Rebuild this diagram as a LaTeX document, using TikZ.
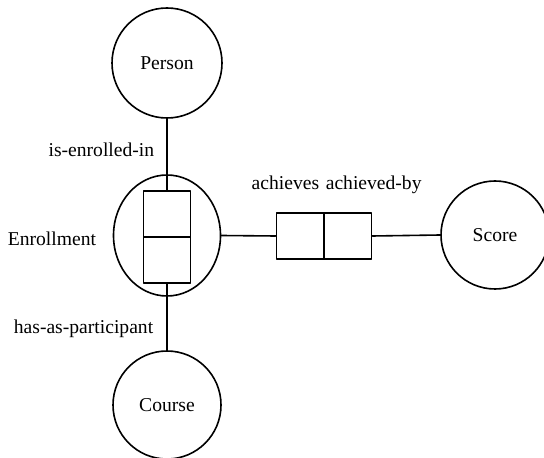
\documentclass[tikz,border=0pt]{standalone}
\usepackage{fontspec}
\setmainfont{Liberation Serif}
\usetikzlibrary{shapes.geometric}
\begin{document}
\begin{tikzpicture}[x=0.5pt,y=-0.5pt,line cap=round,line join=round,line width=0.8pt,
  font=\fontsize{9.8}{12}\selectfont,
  ent/.style={draw,circle,minimum size=54pt,inner sep=0pt},
  cell/.style={draw,rectangle,minimum width=23.5pt,minimum height=23pt,inner sep=0pt},
  lbl/.style={inner sep=0pt}]
\useasboundingbox (0,0) rectangle (544,458);
\node[ent,minimum size=55pt] (person) at (167,63) {Person};
\node[draw,ellipse,minimum width=53.5pt,minimum height=60.5pt,inner sep=0pt] (enrol) at (167,235.5) {};
\node[cell] (enrolTop) at (167,214) {};
\node[cell] (enrolBot) at (167,260) {};
\node[cell,minimum width=23.75pt] (achieves) at (300.25,236) {};
\node[cell,minimum width=23.75pt] (achievedBy) at (347.75,236) {};
\node[ent] (score) at (495,235) {Score};
\node[ent] (course) at (167,405) {Course};
\draw (person.south) -- (enrolTop.north);
\draw (enrolBot.south) -- (course.north);
\draw (enrol.east) -- (achieves.west);
\draw (achievedBy.east) -- (score.west);
\node[lbl,anchor=base east] (isEnrolledIn) at (155,157) {is-enrolled-in};
\node[lbl,anchor=base west] (enrolName) at (7,246) {Enrollment};
\node[lbl,anchor=base east] (hasAsPart) at (154,333) {has-as-participant};
\node[lbl,anchor=base east] (achievesName) at (320,190) {achieves};
\node[lbl,anchor=base west] (achievedByName) at (325,190) {achieved-by};
\end{tikzpicture}
\end{document}
